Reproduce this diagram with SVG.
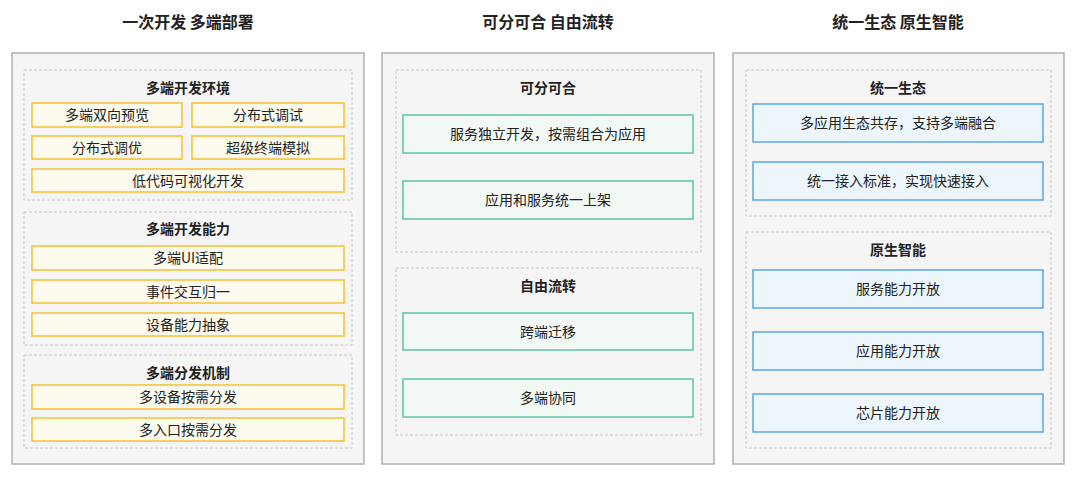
<svg xmlns="http://www.w3.org/2000/svg" width="1080" height="478" viewBox="0 0 1080 478">
<style>
text{font-family:"Noto Sans CJK SC","Noto Sans",sans-serif;text-anchor:middle;dominant-baseline:central;fill:#222}
.h{font-size:16px;font-weight:bold}
.s{font-size:14px;font-weight:bold}
.t{font-size:14px}
.p{fill:#f5f5f5;stroke:#b0b0b0;stroke-width:1.5}
.d{fill:#f5f5f5;stroke:#c8c8c8;stroke-dasharray:3 2}
.y{fill:#fdfaee;stroke:#f5c132;stroke-width:1.5}
.g{fill:#f2f9f5;stroke:#5cc4a2;stroke-width:1.5}
.b{fill:#eef6fd;stroke:#5ba7e6;stroke-width:1.5}
</style>
<rect width="1080" height="478" fill="#fff"/>
<g transform="translate(0,-1)">
<text class="h" x="188" y="22">一次开发 多端部署</text>
<text class="h" x="548" y="22">可分可合 自由流转</text>
<text class="h" x="898" y="22">统一生态 原生智能</text>
</g>
<g id="panel1">
<rect class="p" x="12" y="53" width="352" height="411"/>
<rect class="d" x="24" y="70" width="328" height="130"/>
<text class="s" x="188" y="87">多端开发环境</text>
<rect class="y" x="32" y="103" width="150" height="24"/><text class="t" x="107" y="114">多端双向预览</text>
<rect class="y" x="192" y="103" width="152" height="24"/><text class="t" x="268" y="114">分布式调试</text>
<rect class="y" x="32" y="136" width="150" height="23"/><text class="t" x="107" y="146.5">分布式调优</text>
<rect class="y" x="192" y="136" width="152" height="23"/><text class="t" x="268" y="146.5">超级终端模拟</text>
<rect class="y" x="32" y="169" width="312" height="23"/><text class="t" x="188" y="179.5">低代码可视化开发</text>
<rect class="d" x="24" y="212" width="328" height="133"/>
<text class="s" x="188" y="228">多端开发能力</text>
<rect class="y" x="32" y="246" width="312" height="24"/><text class="t" x="188" y="257">多端UI适配</text>
<rect class="y" x="32" y="280" width="312" height="23"/><text class="t" x="188" y="290.5">事件交互归一</text>
<rect class="y" x="32" y="313" width="312" height="23"/><text class="t" x="188" y="323.5">设备能力抽象</text>
<rect class="d" x="24" y="355" width="328" height="93"/>
<text class="s" x="188" y="372">多端分发机制</text>
<rect class="y" x="32" y="385" width="312" height="24"/><text class="t" x="188" y="396">多设备按需分发</text>
<rect class="y" x="32" y="418" width="312" height="23"/><text class="t" x="188" y="428.5">多入口按需分发</text>
</g>
<g id="panel2">
<rect class="p" x="382" y="53" width="332" height="411"/>
<rect class="d" x="396" y="70" width="305" height="182"/>
<text class="s" x="548" y="87">可分可合</text>
<rect class="g" x="403" y="115" width="290" height="38"/><text class="t" x="548" y="133">服务独立开发，按需组合为应用</text>
<rect class="g" x="403" y="181" width="290" height="38"/><text class="t" x="548" y="199">应用和服务统一上架</text>
<rect class="d" x="396" y="268" width="305" height="167"/>
<text class="s" x="548" y="285">自由流转</text>
<rect class="g" x="403" y="313" width="290" height="37"/><text class="t" x="548" y="330.5">跨端迁移</text>
<rect class="g" x="403" y="379" width="290" height="38"/><text class="t" x="548" y="397">多端协同</text>
</g>
<g id="panel3">
<rect class="p" x="733" y="53" width="331" height="411"/>
<rect class="d" x="746" y="70" width="305" height="146"/>
<text class="s" x="898" y="87">统一生态</text>
<rect class="b" x="753" y="104" width="290" height="38"/><text class="t" x="898" y="122">多应用生态共存，支持多端融合</text>
<rect class="b" x="753" y="162" width="290" height="38"/><text class="t" x="898" y="180">统一接入标准，实现快速接入</text>
<rect class="d" x="746" y="232" width="305" height="216"/>
<text class="s" x="898" y="249">原生智能</text>
<rect class="b" x="753" y="270" width="290" height="38"/><text class="t" x="898" y="288">服务能力开放</text>
<rect class="b" x="753" y="332" width="290" height="38"/><text class="t" x="898" y="350">应用能力开放</text>
<rect class="b" x="753" y="394" width="290" height="38"/><text class="t" x="898" y="412">芯片能力开放</text>
</g>
<g id="connectors"/>
</svg>
